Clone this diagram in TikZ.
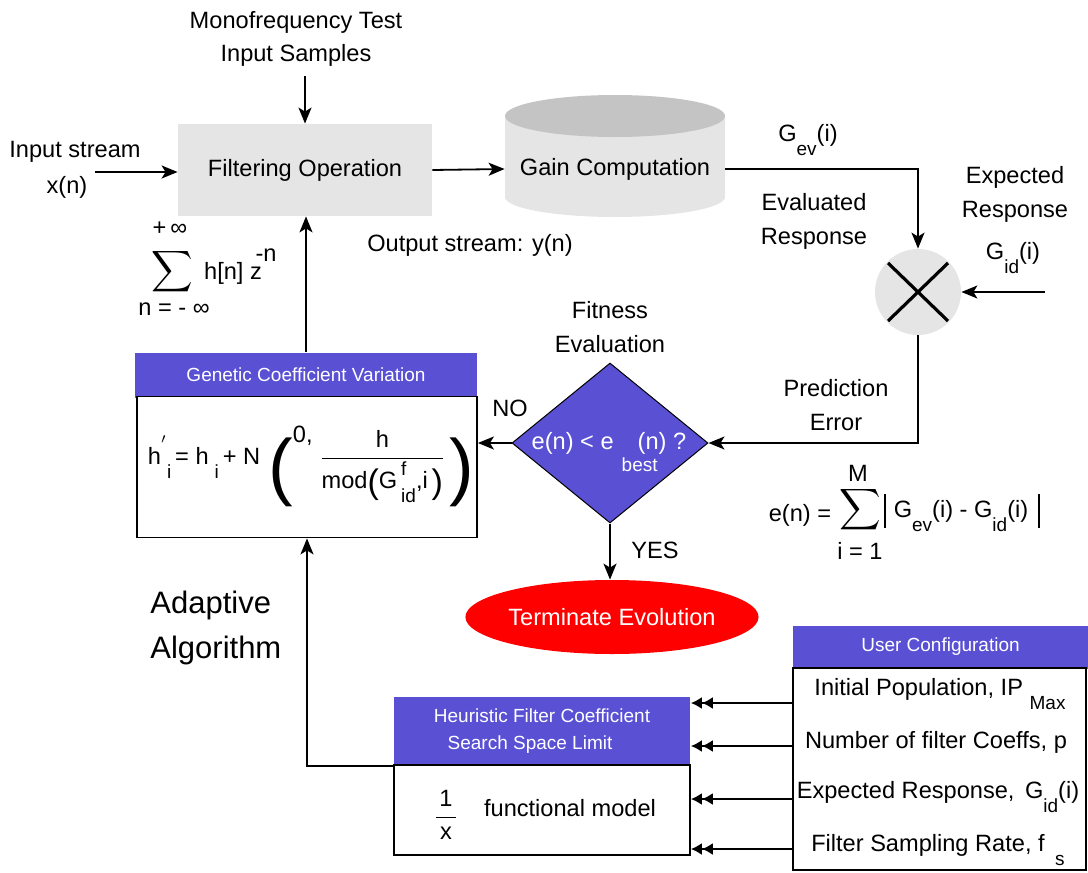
\documentclass[tikz,border=0pt]{standalone}
\usepackage{fontspec}
\setmainfont{Liberation Sans}
\usepackage{amsmath}
\usepackage{graphicx}
\usetikzlibrary{arrows.meta,shapes.geometric,calc}
\definecolor{purp}{HTML}{5A50D4}
\definecolor{lgray}{HTML}{E5E5E5}
\definecolor{dgray}{HTML}{C4C4C4}
\definecolor{tred}{HTML}{FF0000}
\newcommand{\dsub}[1]{\raisebox{-0.6em}{\fontsize{9.5}{9.5}\selectfont #1}}
\newcommand{\dsup}[1]{\raisebox{0.55em}{\fontsize{9.5}{9.5}\selectfont #1}}
\newcommand{\mainsz}{\fontsize{11.8}{17}\selectfont}
\newcommand{\barsz}{\fontsize{9.5}{13.5}\selectfont}
\newcommand{\bigsig}{\scalebox{1.2}{$\displaystyle\sum$}}
\newcommand{\hpar}[3]{\raisebox{#2}{\fontsize{#1}{#1}\selectfont #3}}
\begin{document}
\begin{tikzpicture}[x=0.5pt,y=-0.5pt,
  every node/.style={font=\mainsz, inner sep=0pt},
  arr/.style={line width=0.9pt, -{Stealth[length=8pt,width=6.5pt,inset=2pt]}},
  darr/.style={line width=0.9pt, -{Latex[length=5.5pt,width=6pt]Latex[length=5.5pt,width=6pt]}},
  hdr/.style={fill=purp, text=white, font=\barsz, align=center},
  bodybox/.style={draw=black, line width=0.9pt, fill=white},
  lbl/.style={align=center}]
\useasboundingbox (0,0) rectangle (1088,873);

% Filtering operation
\node[fill=lgray, minimum width=127pt, minimum height=46pt] (filt) at (305,170) {Filtering Operation};
\node[lbl] (mono) at (296,39) {Monofrequency Test\\[-0.5pt]Input Samples};
\coordinate (monoA) at (305,76);
\draw[arr] (monoA) -- (monoA |- filt.north);

% Input stream
\node[lbl] (instr) at (75,170) {Input stream\\[1pt]\hspace*{-8pt}x(n)};
\coordinate (inA) at (95,172);
\draw[arr] (inA) -- (inA -| filt.west);

% Gain computation cylinder
\fill[lgray] (505,116) -- (505,197) arc[start angle=180,end angle=360,x radius=55pt,y radius=10pt] -- (725,116) -- cycle;
\fill[dgray] (615,116) ellipse [x radius=55pt, y radius=10.5pt];
\node[minimum width=110pt, minimum height=20pt] (gain) at (615,169) {Gain Computation};
\draw[arr] (filt.east) -- (gain.west);

\node (outs) at (470,245) {Output stream: y(n)};

% Mixer
\node[circle, fill=lgray, minimum size=43pt] (mix) at (918,292) {};
\draw[line width=1.6pt] ($(mix.center)+(-30,-29)$) -- ($(mix.center)+(30,29)$);
\draw[line width=1.6pt] ($(mix.center)+(-30,29)$) -- ($(mix.center)+(30,-29)$);
\draw[arr] (gain.east) -| (mix.north);
\coordinate (expA) at (1045,292);
\draw[arr] (expA) -- (mix.east);

\node (gev) at (808,140) {G\dsub{ev}(i)};
\node[lbl] (evr) at (814,221) {Evaluated\\Response};
\node[lbl] (expr) at (1015,194) {Expected\\Response};
\node (gid) at (1013,258) {G\dsub{id}(i)};

% Diamond
\node[diamond, fill=purp, draw=black, line width=0.5pt, minimum width=98pt, minimum height=80pt, inner sep=0pt] (dia) at (610,443) {};
\node[text=white, anchor=base] (diat) at (609,449) {e(n) < e\hspace{4pt}\makebox[8pt][l]{\raisebox{-11pt}{\fontsize{9.5}{9.5}\selectfont best}}(n) ?};
\node[lbl] (fit) at (610,327) {Fitness\\Evaluation};
\draw[arr] (mix.south) |- (dia.east);
\node[lbl] (pred) at (836,405) {Prediction\\Error};

% Error formula
\node (en) at (800,515) {e(n) =};
\node (sig2) at (860,510) {\bigsig};
\node (M) at (858,473) {M};
\node (i1) at (860,551) {i = 1};
\node (absf) at (962,513) {\rule[-5pt]{0.8pt}{17pt}\hspace{4pt}G\dsub{ev}(i) - G\dsub{id}(i)\hspace{5pt}\rule[-5pt]{0.8pt}{17pt}};

% Genetic coefficient variation
\node[hdr, minimum width=171pt, minimum height=22.5pt] (gcvH) at (306,375) {Genetic Coefficient Variation};
\node[bodybox, minimum width=170pt, minimum height=70.5pt] (gcvB) at (307,467) {};
\node (gcvF) at (311,466) {$\text{h\rlap{\dsup{$'$}}\hspace{3pt}\dsub{i}\hspace{2pt}= h\hspace{3pt}\dsub{i}\hspace{2pt}+ N}\hspace{4pt}\text{\hpar{37}{-13.5pt}{(}}\raisebox{11pt}{\text{0,}}\;\dfrac{\text{h}}{\text{mod\hpar{17}{-2.5pt}{(}G\,\rlap{\dsup{f}}\dsub{id},i\,\hpar{17}{-2.5pt}{)}}}\,\text{\hpar{37}{-13.5pt}{)}}$};
\draw[arr] (gcvH.north) -- (gcvH.north |- filt.south);
\draw[arr] (dia.west) -- (dia.west -| gcvB.east);
\node (no) at (510,408) {NO};

% Sum in filter
\node (pinf) at (170,229) {+\,∞};
\node (sig1) at (172,272) {\bigsig};
\node (hn) at (233,273) {h[n] z};
\node (mn) at (266,255) {-n};
\node (ninf) at (174,309) {n = - ∞};

% Terminate
\node[ellipse, fill=tred, minimum width=133pt, minimum height=37pt, text=white] (term) at (612,617) {Terminate Evolution};
\draw[arr] (dia.south) -- (dia.south |- term.north);
\node (yes) at (655,550) {YES};

% Adaptive
\node[align=left, anchor=west, font=\fontsize{15.5}{22.5}\selectfont] (adapt) at (150,628) {Adaptive\\Algorithm};

% HFC
\node[hdr, minimum width=148pt, minimum height=34.5pt] (hfcH) at (542,731) {Heuristic Filter Coefficient\\\hspace*{-12pt}Search Space Limit};
\node[bodybox, minimum width=148pt, minimum height=45pt] (hfcB) at (542,810) {};
\node (frac) at (446,815) {$\dfrac{\text{\,1\,}}{\text{\,x\,}}$};
\node (fm) at (570,808) {functional model};
\draw[arr] (hfcH.south west) -| (gcvB.south);

% User configuration
\node[hdr, minimum width=147.5pt, minimum height=21.5pt] (ucH) at (940.5,647) {User Configuration};
\node[bodybox, minimum width=146.5pt, minimum height=101pt] (ucB) at (939.5,769) {};
\node (u1) at (940,694) {Initial Population, IP \dsub{Max}};
\node (u2) at (936,742) {Number of filter Coeffs, p};
\node (u3) at (938,797) {Expected Response, \,G\dsub{id}(i)};
\node (u4) at (938,850) {Filter Sampling Rate, f \,\dsub{s}};
\foreach \yy in {703,746,799,849}{
  \coordinate (ucL) at (793,\yy);
  \draw[darr] (ucL) -- (ucL -| hfcB.east);
}
\end{tikzpicture}
\end{document}
